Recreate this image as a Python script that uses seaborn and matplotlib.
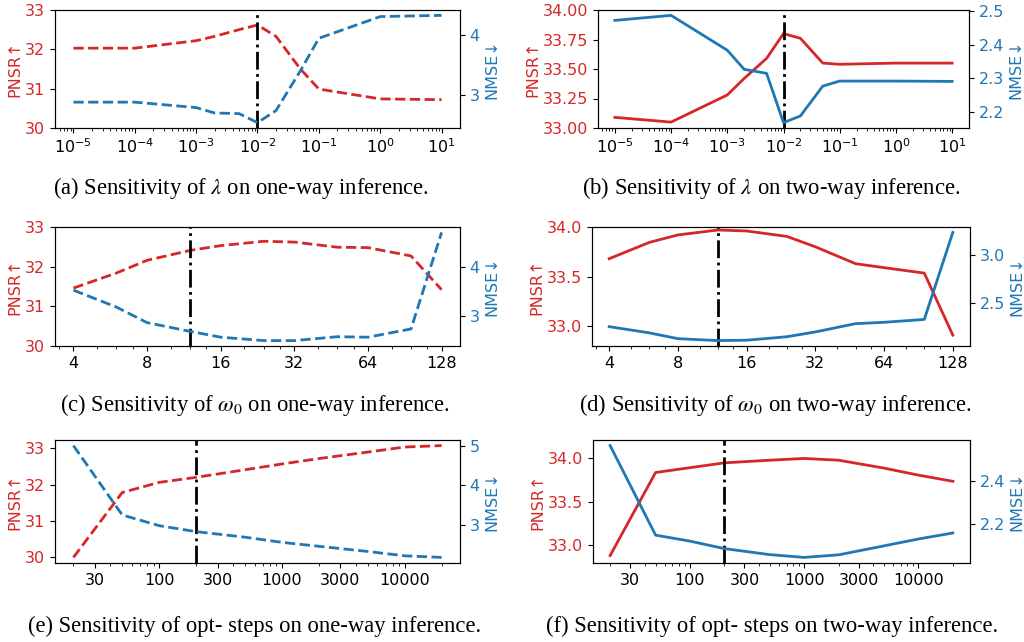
import numpy as np
import matplotlib
matplotlib.use("Agg")
import matplotlib.pyplot as plt
import matplotlib.ticker as mticker
import seaborn as sns

plt.rcParams['font.family'] = ['DejaVu Sans']
plt.rcParams['mathtext.fontset'] = 'stix'

RED = '#d62728'
BLUE = '#1f77b4'

# ---- data ----
lam_x = [1e-5, 1e-4, 1e-3, 2e-3, 5e-3, 1e-2, 2e-2, 5e-2, 1e-1, 1, 10]
a_pnsr = [32.03, 32.03, 32.22, 32.33, 32.50, 32.62, 32.33, 31.50, 30.99, 30.74, 30.72]
a_nmse = [2.88, 2.88, 2.79, 2.70, 2.69, 2.54, 2.74, 3.40, 3.94, 4.30, 4.32]
b_pnsr = [33.09, 33.05, 33.28, 33.42, 33.59, 33.80, 33.76, 33.55, 33.54, 33.55, 33.55]
b_nmse = [2.472, 2.487, 2.383, 2.326, 2.314, 2.167, 2.187, 2.276, 2.291, 2.291, 2.290]

w_x = [4, 6, 8, 12, 16, 24, 32, 48, 64, 96, 128]
c_pnsr = [31.46, 31.84, 32.16, 32.41, 32.53, 32.64, 32.62, 32.49, 32.48, 32.27, 31.42]
c_nmse = [3.53, 3.18, 2.86, 2.68, 2.56, 2.49, 2.49, 2.57, 2.56, 2.73, 4.72]
d_pnsr = [33.68, 33.845, 33.92, 33.97, 33.96, 33.905, 33.80, 33.63, 33.59, 33.535, 32.91]
d_nmse = [2.255, 2.19, 2.13, 2.11, 2.114, 2.15, 2.20, 2.286, 2.30, 2.33, 3.234]

s_x = [20, 50, 100, 200, 500, 1000, 2000, 5000, 10000, 20000]
e_pnsr = [29.98, 31.78, 32.06, 32.20, 32.41, 32.57, 32.72, 32.90, 33.04, 33.08]
e_nmse = [5.00, 3.25, 2.98, 2.83, 2.69, 2.56, 2.46, 2.33, 2.22, 2.18]
f_pnsr = [32.885, 33.83, 33.885, 33.94, 33.97, 33.99, 33.97, 33.88, 33.80, 33.73]
f_nmse = [2.566, 2.148, 2.12, 2.085, 2.057, 2.044, 2.056, 2.098, 2.13, 2.158]

lam_ticks = [1e-5, 1e-4, 1e-3, 1e-2, 1e-1, 1, 10]
w_ticks = [4, 8, 16, 32, 64, 128]
s_ticks = [30, 100, 300, 1000, 3000, 10000]

captions = [
    r"(a) Sensitivity of $\lambda$ on one-way inference.",
    r"(b) Sensitivity of $\lambda$ on two-way inference.",
    r"(c) Sensitivity of $\omega_0$ on one-way inference.",
    r"(d) Sensitivity of $\omega_0$ on two-way inference.",
    r"(e) Sensitivity of opt- steps on one-way inference.",
    r"(f) Sensitivity of opt- steps on two-way inference.",
]

W, H = 1024, 642
fig = plt.figure(figsize=(W / 100, H / 100), dpi=100)

def px_axes(l, t, r, b):
    return fig.add_axes([l / W, 1 - b / H, (r - l) / W, (b - t) / H])

FS = 11.5

def panel(box, x, pnsr, nmse, ls, vline, kind, left_lim=None):
    ax = px_axes(*box)
    ax2 = ax.twinx()
    if kind == 'w':
        ax.set_xscale('log', base=2)
    else:
        ax.set_xscale('log')
    sns.lineplot(x=x, y=pnsr, ax=ax, color=RED, linestyle=ls, lw=2)
    sns.lineplot(x=x, y=nmse, ax=ax2, color=BLUE, linestyle=ls, lw=2)
    ax.axvline(vline, color='k', linestyle='-.', lw=2)
    if left_lim is not None:
        ax.set_ylim(*left_lim)
    if kind == 'lam':
        ax.xaxis.set_major_locator(mticker.FixedLocator(lam_ticks))
        ax.xaxis.set_major_formatter(mticker.LogFormatterSciNotation())
        ax.xaxis.set_minor_locator(mticker.LogLocator(base=10, subs=np.arange(2, 10), numticks=20))
        ax.xaxis.set_minor_formatter(mticker.NullFormatter())
    elif kind == 'w':
        ax.xaxis.set_major_locator(mticker.FixedLocator(w_ticks))
        ax.xaxis.set_major_formatter(mticker.FixedFormatter([str(t) for t in w_ticks]))
        ax.xaxis.set_minor_locator(mticker.LogLocator(base=2, subs=[1.25, 1.5, 1.75]))
        ax.xaxis.set_minor_formatter(mticker.NullFormatter())
    else:
        ax.xaxis.set_major_locator(mticker.FixedLocator(s_ticks))
        ax.xaxis.set_major_formatter(mticker.FixedFormatter([str(t) for t in s_ticks]))
        ax.xaxis.set_minor_locator(mticker.LogLocator(base=10, subs=np.arange(2, 10)))
        ax.xaxis.set_minor_formatter(mticker.NullFormatter())
    ax.set_ylabel('PNSR↑', color=RED, fontsize=FS, labelpad=2)
    ax2.set_ylabel('NMSE↓', color=BLUE, fontsize=FS, labelpad=3)
    ax.tick_params(axis='y', labelcolor=RED, labelsize=FS)
    ax2.tick_params(axis='y', labelcolor=BLUE, labelsize=FS)
    ax.tick_params(axis='x', labelsize=FS)
    ax.set_xlabel('')
    return ax, ax2

# (a)
axa, axa2 = panel((55, 10, 460, 128), lam_x, a_pnsr, a_nmse, '--', 1e-2, 'lam', (30, 33))
axa.yaxis.set_major_locator(mticker.MultipleLocator(1))
axa2.yaxis.set_major_locator(mticker.MultipleLocator(1))
# (b)
axb, axb2 = panel((598, 10, 969, 128), lam_x, b_pnsr, b_nmse, '-', 1e-2, 'lam', (33, 34))
axb.yaxis.set_major_locator(mticker.MultipleLocator(0.25))
axb.yaxis.set_major_formatter(mticker.FormatStrFormatter('%.2f'))
axb2.yaxis.set_major_locator(mticker.MultipleLocator(0.1))
axb2.yaxis.set_major_formatter(mticker.FormatStrFormatter('%.1f'))
# (c)
axc, axc2 = panel((55, 227, 460, 346), w_x, c_pnsr, c_nmse, '--', 12, 'w', (30, 33))
axc.yaxis.set_major_locator(mticker.MultipleLocator(1))
axc2.yaxis.set_major_locator(mticker.MultipleLocator(1))
# (d)
axd, axd2 = panel((592, 227, 970, 346), w_x, d_pnsr, d_nmse, '-', 12, 'w', (32.8, 34.0))
axd.yaxis.set_major_locator(mticker.MultipleLocator(0.5))
axd.yaxis.set_major_formatter(mticker.FormatStrFormatter('%.1f'))
axd2.yaxis.set_major_locator(mticker.MultipleLocator(0.5))
axd2.yaxis.set_major_formatter(mticker.FormatStrFormatter('%.1f'))
# (e)
axe, axe2 = panel((55, 440, 460, 563), s_x, e_pnsr, e_nmse, '--', 200, 's')
axe.yaxis.set_major_locator(mticker.MultipleLocator(1))
axe2.yaxis.set_major_locator(mticker.MultipleLocator(1))
# (f)
axf, axf2 = panel((593, 440, 970, 563), s_x, f_pnsr, f_nmse, '-', 200, 's', (32.8, 34.2))
axf.yaxis.set_major_locator(mticker.MultipleLocator(0.5))
axf.yaxis.set_major_formatter(mticker.FormatStrFormatter('%.1f'))
axf2.yaxis.set_major_locator(mticker.MultipleLocator(0.2))
axf2.yaxis.set_major_formatter(mticker.FormatStrFormatter('%.1f'))

cap_pos = [(241, 188), (771, 188), (255, 405), (775, 405), (255, 626), (772, 626)]
for txt, (cx, cy) in zip(captions, cap_pos):
    fig.text(cx / W, 1 - cy / H, txt, ha='center', va='center',
             fontsize=16.3, family='Liberation Serif')

fig.savefig('out.png', dpi=100)
